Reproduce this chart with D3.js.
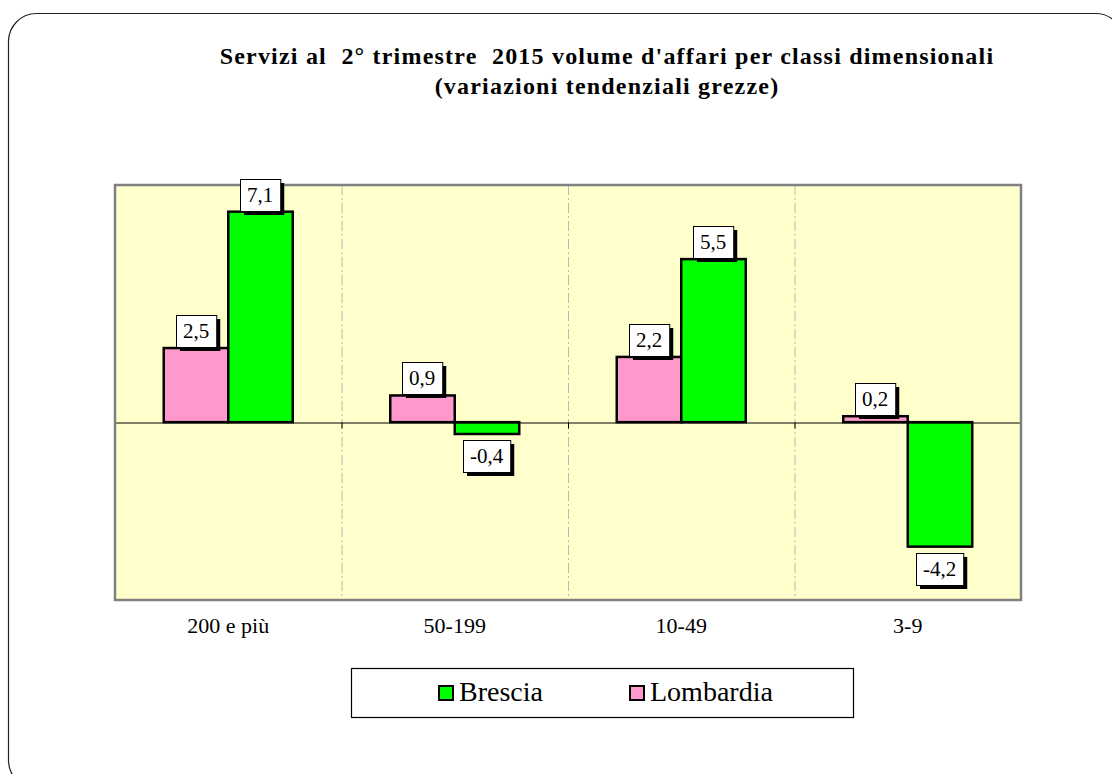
<!DOCTYPE html>
<html>
<head>
<meta charset="utf-8">
<script src="https://cdn.jsdelivr.net/npm/d3@7"></script>
<style>
  body { margin: 0; background: #fff; }
  svg { display: block; }
  text { font-family: "Liberation Serif", "Times New Roman", serif; white-space: pre; }
</style>
</head>
<body>
<div id="chart"></div>
<script>
'use strict';

// Data
var categories = ['200 e più', '50-199', '10-49', '3-9'];
var seriesNames = ['Lombardia', 'Brescia'];
var lombardia = [2.5, 0.9, 2.2, 0.2];
var brescia = [7.1, -0.4, 5.5, -4.2];
var legendOrder = ['Brescia', 'Lombardia'];
var titleLines = [
  "Servizi al  2° trimestre  2015 volume d'affari per classi dimensionali",
  '(variazioni tendenziali grezze)'
];

var colors = { Lombardia: '#ff99cc', Brescia: '#00ff00' };
var values = { Lombardia: lombardia, Brescia: brescia };
var serif = '"Liberation Serif", "Times New Roman", serif';

var width = 1112, height = 774;
var plot = { left: 115, top: 185, right: 1021, bottom: 600 };

var svg = d3.select('#chart').append('svg')
  .attr('width', width)
  .attr('height', height);

// outer rounded frame
svg.append('rect')
  .attr('x', 8.5).attr('y', 13.5)
  .attr('width', 1115).attr('height', 775)
  .attr('rx', 28).attr('ry', 28)
  .attr('fill', 'none')
  .attr('stroke', '#222')
  .attr('stroke-width', 1.2);

// title
svg.append('g').selectAll('text')
  .data(titleLines)
  .enter().append('text')
  .attr('x', 607)
  .attr('y', function(d, i) { return 64 + i * 30; })
  .attr('text-anchor', 'middle')
  .attr('font-family', serif)
  .attr('font-size', 24)
  .attr('letter-spacing', 1.2)
  .attr('font-weight', 'bold')
  .attr('fill', '#000')
  .text(function(d) { return d; });

// scales
var x = d3.scaleBand()
  .domain(categories)
  .range([plot.left, plot.right])
  .padding(0);

var y = d3.scaleLinear()
  .domain([-6, 8])
  .range([plot.bottom, plot.top]);

var barW = 64.5;
var xs = d3.scaleBand()
  .domain(seriesNames)
  .range([0, barW * 2]);

// plot background
svg.append('rect')
  .attr('x', plot.left).attr('y', plot.top)
  .attr('width', plot.right - plot.left)
  .attr('height', plot.bottom - plot.top)
  .attr('fill', '#ffffcc');

// category dividers
svg.append('g').selectAll('line')
  .data(categories.slice(1))
  .enter().append('line')
  .attr('x1', function(d) { return x(d) + 0.5; })
  .attr('x2', function(d) { return x(d) + 0.5; })
  .attr('y1', plot.top)
  .attr('y2', plot.bottom)
  .attr('stroke', '#b8b8b8')
  .attr('stroke-width', 1)
  .attr('stroke-dasharray', '10,3,2,3');

// bars
var bars = [];
seriesNames.forEach(function(s) {
  categories.forEach(function(c, i) {
    bars.push({ series: s, cat: c, value: values[s][i] });
  });
});

function barX(d) {
  return x(d.cat) + x.bandwidth() / 2 - barW + xs(d.series);
}

svg.append('g').selectAll('rect')
  .data(bars)
  .enter().append('rect')
  .attr('x', barX)
  .attr('y', function(d) { return y(Math.max(0, d.value)); })
  .attr('width', xs.bandwidth())
  .attr('height', function(d) { return Math.abs(y(d.value) - y(0)); })
  .attr('fill', function(d) { return colors[d.series]; })
  .attr('stroke', '#000')
  .attr('stroke-width', 2.5);

// zero axis
var zero = Math.round(y(0)) + 0.5;
var axis = d3.axisBottom(x).tickSize(0).tickPadding(0).tickFormat('');
svg.append('g')
  .attr('transform', 'translate(0,' + zero + ')')
  .call(axis)
  .call(function(g) {
    g.select('.domain').attr('stroke', '#000').attr('stroke-width', 1);
  });
svg.append('g').selectAll('line')
  .data(categories.slice(1))
  .enter().append('line')
  .attr('x1', function(d) { return x(d) + 0.5; })
  .attr('x2', function(d) { return x(d) + 0.5; })
  .attr('y1', zero)
  .attr('y2', zero + 6)
  .attr('stroke', '#000');

// plot border
svg.append('rect')
  .attr('x', plot.left).attr('y', plot.top)
  .attr('width', plot.right - plot.left)
  .attr('height', plot.bottom - plot.top)
  .attr('fill', 'none')
  .attr('stroke', '#808080')
  .attr('stroke-width', 2.5);

// category labels
svg.append('g').selectAll('text')
  .data(categories)
  .enter().append('text')
  .attr('x', function(d) { return x(d) + x.bandwidth() / 2; })
  .attr('y', 633)
  .attr('text-anchor', 'middle')
  .attr('font-family', serif)
  .attr('font-size', 22)
  .attr('fill', '#000')
  .text(function(d) { return d; });

// data labels
var fmt = function(v) { return String(v).replace('.', ','); };
var labels = svg.append('g').selectAll('g')
  .data(bars)
  .enter().append('g');

labels.each(function(d) {
  var g = d3.select(this);
  var txt = fmt(d.value);
  var cx = barX(d) + xs.bandwidth() / 2;
  var t = g.append('text')
    .attr('font-family', serif)
    .attr('font-size', 21)
    .attr('text-anchor', 'middle')
    .text(txt);
  var w = t.node().getComputedTextLength() + 14;
  var h = 32;
  var top = d.value >= 0 ? y(d.value) - h - 1 : y(d.value) + 6;
  var left = Math.round(cx - w / 2);
  top = Math.round(top);
  g.insert('rect', 'text')
    .attr('x', left + 4).attr('y', top + 4)
    .attr('width', w).attr('height', h)
    .attr('fill', '#000');
  g.insert('rect', 'text')
    .attr('x', left + 0.5).attr('y', top + 0.5)
    .attr('width', w).attr('height', h)
    .attr('fill', '#fff')
    .attr('stroke', '#000')
    .attr('stroke-width', 1);
  t.attr('x', left + w / 2).attr('y', top + 23);
});

// legend
var legend = svg.append('g');
legend.append('rect')
  .attr('x', 351.5).attr('y', 668.5)
  .attr('width', 502).attr('height', 49)
  .attr('fill', '#fff')
  .attr('stroke', '#000')
  .attr('stroke-width', 1.2);

var legendX = d3.scalePoint()
  .domain(legendOrder)
  .range([438, 629]);

var li = legend.selectAll('g.item')
  .data(legendOrder)
  .enter().append('g')
  .attr('class', 'item')
  .attr('transform', function(d) { return 'translate(' + legendX(d) + ',685)'; });

li.append('rect')
  .attr('x', 1).attr('y', 1)
  .attr('width', 14).attr('height', 14)
  .attr('fill', function(d) { return colors[d]; })
  .attr('stroke', '#000')
  .attr('stroke-width', 2);

li.append('text')
  .attr('x', 21)
  .attr('y', 16)
  .attr('font-family', serif)
  .attr('font-size', 28)
  .attr('fill', '#000')
  .text(function(d) { return d; });
</script>
</body>
</html>
